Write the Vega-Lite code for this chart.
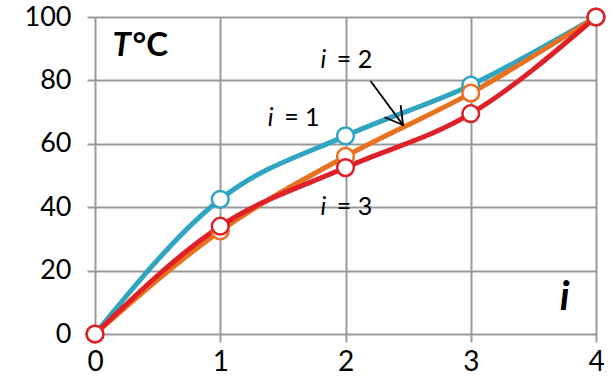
{
  "$schema": "https://vega.github.io/schema/vega-lite/v6.json",
  "width": 501,
  "height": 317,
  "autosize": {"type": "none"},
  "padding": {"left": 95, "top": 17, "right": 15, "bottom": 51},
  "background": "white",
  "config": {"view": {"stroke": null}, "font": "Lato"},
  "datasets": {
    "series": [
      {"i": 0, "T": 0, "s": "i = 1"}, {"i": 1, "T": 42.5, "s": "i = 1"}, {"i": 2, "T": 62.5, "s": "i = 1"}, {"i": 3, "T": 78.5, "s": "i = 1"}, {"i": 4, "T": 100, "s": "i = 1"},
      {"i": 0, "T": 0, "s": "i = 2"}, {"i": 1, "T": 32.5, "s": "i = 2"}, {"i": 2, "T": 56, "s": "i = 2"}, {"i": 3, "T": 76, "s": "i = 2"}, {"i": 4, "T": 100, "s": "i = 2"},
      {"i": 0, "T": 0, "s": "i = 3"}, {"i": 1, "T": 34, "s": "i = 3"}, {"i": 2, "T": 52.5, "s": "i = 3"}, {"i": 3, "T": 69.5, "s": "i = 3"}, {"i": 4, "T": 100, "s": "i = 3"}
    ],
    "italic": [
      {"x": 1.38, "y": 68, "t": "i"},
      {"x": 1.8, "y": 86.5, "t": "i"},
      {"x": 1.8, "y": 40, "t": "i"}
    ],
    "normal": [
      {"x": 1.51, "y": 68, "t": "= 1"},
      {"x": 1.93, "y": 86.5, "t": "= 2"},
      {"x": 1.93, "y": 40, "t": "= 3"}
    ],
    "arrow": [{"x": 2.2, "y": 79.8, "x2": 2.46, "y2": 65.9}]
  },
  "layer": [
    {
      "data": {"name": "series"},
      "mark": {"type": "line", "interpolate": "monotone", "strokeWidth": 5},
      "encoding": {
        "x": {"field": "i", "type": "quantitative", "scale": {"domain": [0, 4], "nice": false},
          "axis": {"title": null, "values": [0, 1, 2, 3, 4], "format": "d", "labelFlush": false, "grid": true, "gridColor": "#999999", "gridWidth": 2, "gridOpacity": 1, "domain": false, "ticks": true, "tickColor": "#999999", "tickWidth": 2, "tickSize": 8, "labelFontSize": 28, "labelColor": "#000000", "labelPadding": 6, "labelFont": "Lato"}},
        "y": {"field": "T", "type": "quantitative", "scale": {"domain": [0, 100], "nice": false},
          "axis": {"title": null, "values": [0, 20, 40, 60, 80, 100], "labelFlush": false, "grid": true, "gridColor": "#999999", "gridWidth": 2, "gridOpacity": 1, "domain": false, "ticks": true, "tickColor": "#999999", "tickWidth": 2, "tickSize": 8, "labelFontSize": 27, "labelColor": "#000000", "labelPadding": 16, "labelFont": "Lato"}},
        "color": {"field": "s", "type": "nominal", "scale": {"domain": ["i = 1", "i = 2", "i = 3"], "range": ["#2fa5c1", "#ea7120", "#de2128"]}, "legend": null}
      }
    },
    {
      "data": {"name": "series"},
      "mark": {"type": "point", "filled": true, "fill": "white", "size": 280, "strokeWidth": 2.5, "opacity": 1},
      "encoding": {
        "x": {"field": "i", "type": "quantitative"},
        "y": {"field": "T", "type": "quantitative"},
        "stroke": {"field": "s", "type": "nominal", "scale": {"domain": ["i = 1", "i = 2", "i = 3"], "range": ["#2fa5c1", "#ea7120", "#de2128"]}, "legend": null}
      }
    },
    {
      "data": {"name": "italic"},
      "mark": {"type": "text", "fontSize": 25, "fontStyle": "italic", "align": "left", "baseline": "middle", "color": "#000000"},
      "encoding": {"x": {"field": "x", "type": "quantitative"}, "y": {"field": "y", "type": "quantitative"}, "text": {"field": "t"}}
    },
    {
      "data": {"name": "normal"},
      "mark": {"type": "text", "fontSize": 25, "align": "left", "baseline": "middle", "color": "#000000"},
      "encoding": {"x": {"field": "x", "type": "quantitative"}, "y": {"field": "y", "type": "quantitative"}, "text": {"field": "t"}}
    },
    {
      "data": {"values": [{"x": 0.14, "y": 91, "t": "T"}]},
      "mark": {"type": "text", "fontSize": 33, "fontStyle": "italic", "fontWeight": "bold", "align": "left", "baseline": "middle", "color": "#000000"},
      "encoding": {"x": {"field": "x", "type": "quantitative"}, "y": {"field": "y", "type": "quantitative"}, "text": {"field": "t"}}
    },
    {
      "data": {"values": [{"x": 0.3, "y": 91, "t": "°C"}]},
      "mark": {"type": "text", "fontSize": 33, "fontWeight": "bold", "align": "left", "baseline": "middle", "color": "#000000"},
      "encoding": {"x": {"field": "x", "type": "quantitative"}, "y": {"field": "y", "type": "quantitative"}, "text": {"field": "t"}}
    },
    {
      "data": {"values": [{"x": 3.75, "y": 11.5, "t": "i"}]},
      "mark": {"type": "text", "fontSize": 40, "fontStyle": "italic", "fontWeight": "bold", "align": "center", "baseline": "middle", "color": "#000000"},
      "encoding": {"x": {"field": "x", "type": "quantitative"}, "y": {"field": "y", "type": "quantitative"}, "text": {"field": "t"}}
    },
    {
      "data": {"name": "arrow"},
      "mark": {"type": "rule", "color": "#000000", "strokeWidth": 1.8},
      "encoding": {"x": {"field": "x", "type": "quantitative"}, "y": {"field": "y", "type": "quantitative"}, "x2": {"field": "x2"}, "y2": {"field": "y2"}}
    },
    {
      "data": {"name": "arrow"},
      "mark": {"type": "point", "shape": "M -0.5 -0.87 L 0 0 L 0.5 -0.87", "filled": false, "size": 1600, "angle": 323, "stroke": "#000000", "strokeWidth": 1.8, "opacity": 1},
      "encoding": {"x": {"field": "x2", "type": "quantitative"}, "y": {"field": "y2", "type": "quantitative"}}
    }
  ]
}
